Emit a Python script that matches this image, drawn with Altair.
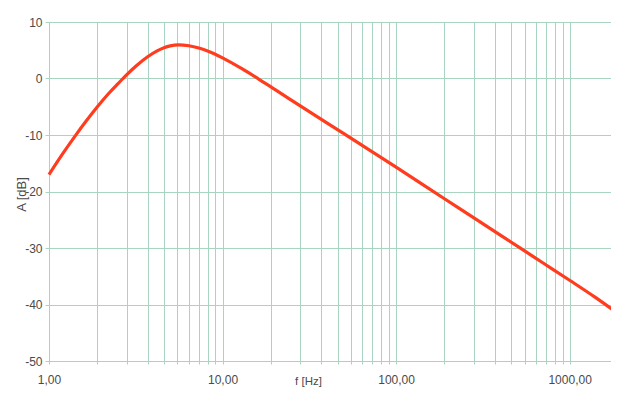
import altair as alt
import pandas as pd

# Frequency response
freq = [1.0, 1.2, 1.42, 1.65, 1.9, 2.2, 2.5, 2.8, 3.2, 3.7, 4.2, 4.6, 5.0, 5.55,
        6.4, 7.3, 8.2, 10.0, 13.0, 16.0, 20.0, 30.0, 50.0, 100.0, 190.0, 300.0,
        542.0, 700.0, 1000.0, 1400.0, 1900.0]
gain = [-17.0, -13.3, -10.1, -7.4, -5.0, -2.7, -0.9, 0.65, 2.3, 3.85, 4.9, 5.45, 5.78, 5.95,
        5.8, 5.4, 4.87, 3.66, 1.69, -0.02, -1.93, -5.42, -9.77, -15.7, -21.28, -25.24,
        -30.39, -32.61, -35.71, -38.7, -41.6]

# gridline positions of the log axis (1 + 0.9k steps per decade)
x_grid = [1, 1.9, 2.8, 3.7, 4.6, 5.5, 6.4, 7.3, 8.2, 9.1,
          10, 19, 28, 37, 46, 55, 64, 73, 82, 91,
          100, 190, 280, 370, 460, 550, 640, 730, 820, 910,
          1000, 1900]
x_labels = [1, 10, 100, 1000]
y_ticks = [-50, -40, -30, -20, -10, 0, 10]

df = pd.DataFrame({"f": freq, "A": gain})

grid_color = "#a9d4c2"
text_color = "#4a4a4a"
label_font = "Liberation Sans Narrow, Liberation Sans"

chart = alt.Chart(df).mark_line(
    color="#ff3c1e", strokeWidth=3.2, interpolate="monotone"
).encode(
    x=alt.X("f:Q",
            scale=alt.Scale(type="log", domain=[1, 1900], nice=False),
            axis=alt.Axis(
                values=x_grid,
                labelExpr="indexof([1,10,100,1000], datum.value) >= 0 ? replace(format(datum.value, '.2f'), '.', ',') : ''",
                title="f [Hz]",
                grid=True, gridColor=grid_color, gridWidth=1,
                domain=False, ticks=True, tickColor=grid_color, tickSize=3,
                labelPadding=10, labelFontSize=12, labelColor=text_color,
                labelFont=label_font, labelOverlap=False, labelFlush=False,
                titleFont=label_font, titleFontSize=11.5, titleFontWeight="normal",
                titleColor=text_color, titleX=259, titleY=23.5, titleAlign="center",
                titleBaseline="alphabetic",
            )),
    y=alt.Y("A:Q",
            scale=alt.Scale(domain=[-50, 10], nice=False),
            axis=alt.Axis(
                values=y_ticks,
                labelExpr="datum.value + ''",
                title="A [dB]",
                grid=True, gridColor=grid_color, gridWidth=1,
                domain=False, ticks=True, tickColor=grid_color, tickSize=4,
                labelPadding=3, labelFontSize=12, labelColor=text_color,
                labelFont=label_font,
                titleFont="Liberation Sans", titleFontSize=13, titleFontWeight="normal",
                titleColor=text_color, titleX=-24, titleY=172, titleAlign="center",
                titleBaseline="alphabetic",
            )),
).properties(
    width=569, height=339,
    padding={"left": 41, "top": 14, "right": -7, "bottom": 26},
    autosize=alt.AutoSizeParams(type="none"),
).configure_view(stroke=None)

chart.save("out.html", embed_options={"renderer": "svg", "actions": False})
